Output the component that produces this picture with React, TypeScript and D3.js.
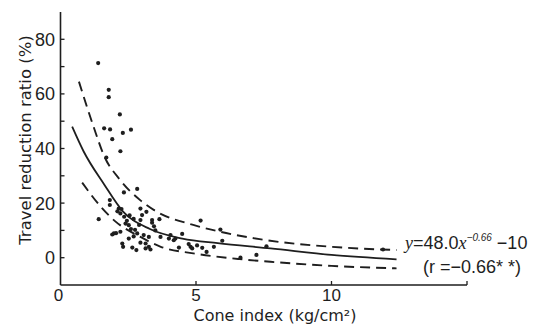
import React, { useEffect, useRef } from 'react';
import * as d3 from 'd3';

const points: [number, number][] = [
  [1.39, 71.3], [1.78, 61.5], [1.78, 58.8], [2.19, 52.5], [1.61, 47.4], [1.83, 47], [2.3, 45.7],
  [2.6, 46.9], [1.91, 43.4], [2.21, 39], [1.69, 36.7], [2.34, 23.9], [2.83, 25.2], [1.82, 21.1],
  [1.82, 19.3], [1.41, 14.1], [2.15, 18], [2.21, 16.2], [2.35, 15], [2.45, 13.5], [2.95, 18],
  [3.17, 16.8], [3.01, 15.6], [3.38, 13.8], [3.38, 12.8], [3.65, 14.1], [2.95, 13.8], [1.97, 8.9],
  [1.91, 8.5], [2.21, 9.5], [2.52, 11.9], [2.6, 10.5], [2.4, 12.5], [2.83, 8.9], [2.75, 10.2],
  [3.07, 8.3], [3.26, 7.6], [2.28, 5.2], [2.31, 4.0], [2.65, 3.7], [2.8, 2.8], [3.14, 5.2],
  [3.26, 4.0], [3.14, 3.4], [3.32, 3.0], [2.52, 7.0], [3.69, 7.6], [4.06, 8.3], [4.24, 7.0],
  [4.49, 8.7], [4.73, 5.0], [4.8, 4.0], [5.04, 4.5], [5.23, 3.6], [5.66, 4.0], [5.39, 2.1],
  [4.37, 3.7], [4.86, 3.4], [5.17, 13.6], [5.9, 10.3], [5.97, 6.2], [6.64, 0], [7.23, 1.0],
  [7.6, 4.2], [11.9, 3.0], [4.0, 7.0], [4.18, 6.4], [3.45, 11.5], [2.9, 12.0], [2.1, 17],
  [2.25, 17.8], [2.05, 9], [2.7, 7.8], [2.95, 5.5], [3.5, 10], [2.55, 15.5], [2.7, 14.2],
];

// fitted curve y = 48.0 x^-0.66 - 10
const fitLine: [number, number][] = [
  [0.43, 48], [0.85, 39], [1.6, 27], [2.3, 17], [3.3, 10.5], [4.5, 7], [5.8, 5.3],
  [7.75, 3.4], [10, 1.0], [12.4, -0.6],
];

// upper and lower dashed bands
const upperBand: [number, number][] = [
  [0.68, 64.5], [1.22, 48], [1.6, 37.5], [2.2, 28.5], [2.95, 21], [3.44, 17.5], [4.9, 12],
  [5.9, 9.5], [7.4, 6.7], [10, 4.0], [12.4, 2.8],
];
const lowerBand: [number, number][] = [
  [0.8, 27.5], [1.5, 18.5], [2.0, 13.5], [2.95, 7.6], [3.7, 4.0], [4.9, 1.6], [6.6, -0.5],
  [7.75, -1.5], [10, -3], [12.4, -3.9],
];

const xTicks = [0, 5, 10];
const xMinorTicks = [5, 10, 15];
const yTicks = [0, 20, 40, 60, 80];
const yMinorTicks = [0, 10, 20, 30, 40, 50, 60, 70, 80];

const ink = '#1e1e1e';

export default function App() {
  const svgRef = useRef<SVGSVGElement>(null);

  useEffect(() => {
    if (!svgRef.current) return;
    const svg = d3.select(svgRef.current);
    svg.selectAll('*').remove();

    const x = d3.scaleLinear().domain([0, 15]).range([60.5, 467]);
    const y = d3.scaleLinear().domain([-10, 90]).range([285, 12]);

    // axes (ticks point inward)
    svg.append('line')
      .attr('x1', x(0)).attr('x2', x(0)).attr('y1', y(90)).attr('y2', y(-10))
      .attr('stroke', ink).attr('stroke-width', 1.6);
    svg.append('line')
      .attr('x1', x(0)).attr('x2', x(15)).attr('y1', y(-10)).attr('y2', y(-10))
      .attr('stroke', ink).attr('stroke-width', 1.6);

    svg.selectAll('.ytick').data(yMinorTicks).enter().append('line')
      .attr('x1', x(0)).attr('x2', x(0) + 4)
      .attr('y1', d => y(d)).attr('y2', d => y(d))
      .attr('stroke', ink).attr('stroke-width', 1.3);
    svg.selectAll('.xtick').data(xMinorTicks).enter().append('line')
      .attr('x1', d => x(d)).attr('x2', d => x(d))
      .attr('y1', y(-10)).attr('y2', y(-10) - 4)
      .attr('stroke', ink).attr('stroke-width', 1.3);

    const labelFont = '"Liberation Sans", Arial, sans-serif';

    svg.selectAll('.ylabel').data(yTicks).enter().append('text')
      .attr('x', 55).attr('y', d => y(d)).attr('dy', '0.36em')
      .attr('text-anchor', 'end').attr('font-family', labelFont).attr('font-size', 18)
      .attr('fill', ink).text(d => d);
    svg.selectAll('.xlabel').data(xTicks).enter().append('text')
      .attr('x', d => x(d) - (d === 0 ? 2 : 0)).attr('y', 301)
      .attr('text-anchor', 'middle').attr('font-family', labelFont).attr('font-size', 17)
      .attr('fill', ink).text(d => d);

    svg.append('text')
      .attr('transform', 'translate(31,140) rotate(-90)')
      .attr('text-anchor', 'middle').attr('font-family', '"DejaVu Sans", sans-serif')
      .attr('font-size', 16.5).attr('fill', ink)
      .text('Travel reduction ratio (%)');
    svg.append('text')
      .attr('x', 275).attr('y', 321)
      .attr('text-anchor', 'middle').attr('font-family', '"DejaVu Sans", sans-serif')
      .attr('font-size', 16).attr('fill', ink)
      .text('Cone index (kg/cm²)');

    // curves
    const line = d3.line<[number, number]>()
      .x(d => x(d[0])).y(d => y(d[1]))
      .curve(d3.curveMonotoneX);

    svg.append('path').datum(fitLine).attr('d', line)
      .attr('fill', 'none').attr('stroke', ink).attr('stroke-width', 1.8);
    [upperBand, lowerBand].forEach(band => {
      svg.append('path').datum(band).attr('d', line)
        .attr('fill', 'none').attr('stroke', ink).attr('stroke-width', 1.9)
        .attr('stroke-dasharray', '10,6');
    });

    // observations
    svg.selectAll('.pt').data(points).enter().append('circle')
      .attr('cx', d => x(d[0])).attr('cy', d => y(d[1])).attr('r', 2.1)
      .attr('fill', ink);

    // regression equation
    const eq = svg.append('text')
      .attr('x', 405).attr('y', 249).attr('font-family', labelFont)
      .attr('font-size', 18).attr('fill', ink);
    eq.append('tspan').attr('font-family', '"Liberation Serif", serif').attr('font-style', 'italic').text('y');
    eq.append('tspan').text('=48.0');
    eq.append('tspan').attr('font-family', '"Liberation Serif", serif').attr('font-style', 'italic').text('x');
    eq.append('tspan').attr('font-size', 10).attr('dy', -8).attr('font-style', 'italic').text('−0.66');
    eq.append('tspan').attr('dy', 8).text(' −10');

    svg.append('text')
      .attr('x', 423).attr('y', 273).attr('font-family', labelFont)
      .attr('font-size', 18).attr('fill', ink)
      .text('(r =−0.66* *)');
  }, []);

  return (
    <svg
      ref={svgRef}
      width={559}
      height={325}
      style={{ position: 'absolute', left: 0, top: 0, background: '#fff' }}
    />
  );
}
